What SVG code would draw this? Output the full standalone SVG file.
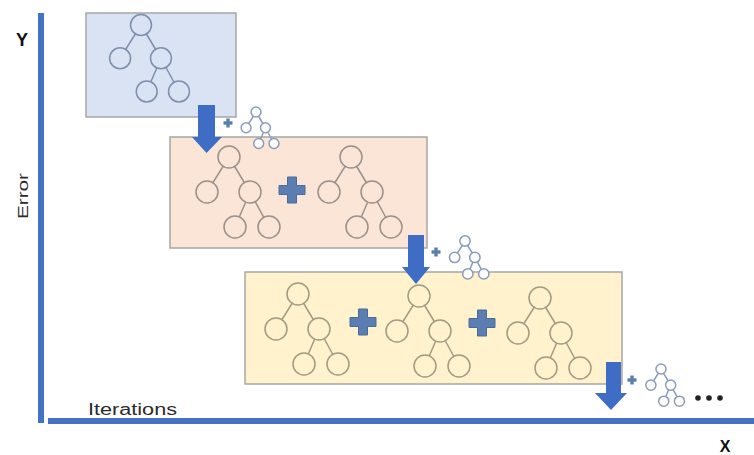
<svg xmlns="http://www.w3.org/2000/svg" xmlns:xlink="http://www.w3.org/1999/xlink" width="754" height="455" viewBox="0 0 754 455">
<style>
.box{stroke:#a6a6a6;stroke-width:1.5}
.arrow{fill:#3f6dc6}
.plus{fill:#5b7eb2;stroke:#4a6a9a;stroke-width:1}
.axis{fill:#4472c4}
.lbl{font-family:"Liberation Sans",Arial,sans-serif;fill:#2b2b2b}
.big{font-weight:bold;fill:#111}
</style>
<defs>
<g id="tree">
<line x1="0" y1="0" x2="-22" y2="35"/>
<line x1="0" y1="0" x2="21" y2="35"/>
<line x1="21" y1="35" x2="6" y2="70"/>
<line x1="21" y1="35" x2="40" y2="70"/>
<circle cx="0" cy="0" r="11"/>
<circle cx="-22" cy="35" r="11"/>
<circle cx="21" cy="35" r="11"/>
<circle cx="6" cy="70" r="11"/>
<circle cx="40" cy="70" r="11"/>
</g>
<path id="plus" d="M-4.5,-13 H4.5 V-4.5 H13 V4.5 H4.5 V13 H-4.5 V4.5 H-13 V-4.5 H-4.5 Z"/>
</defs>

<!-- axes -->
<g id="axes">
<rect class="axis" x="38" y="13" width="6" height="410"/>
<rect class="axis" x="48" y="418" width="706" height="6"/>
<text class="lbl big" x="22" y="46" font-size="18" text-anchor="middle">Y</text>
<text class="lbl" x="0" y="0" font-size="14" text-anchor="middle" transform="translate(28,196) rotate(-90)" textLength="46" lengthAdjust="spacingAndGlyphs">Error</text>
<text class="lbl" x="88" y="415" font-size="16" textLength="89" lengthAdjust="spacingAndGlyphs">Iterations</text>
<text class="lbl big" x="725" y="452" font-size="16" text-anchor="middle">X</text>
</g>

<!-- iteration 1 -->
<g id="iter1">
<rect class="box" x="86" y="13" width="150" height="104" fill="#dae3f3"/>
<use xlink:href="#tree" transform="translate(141,25) scale(0.95)" fill="#dae3f3" stroke="#7f8fae" stroke-width="1.6"/>
</g>

<!-- iteration 2 -->
<g id="iter2">
<rect class="box" x="170" y="137" width="257" height="111" fill="#fbe5d6"/>
<use xlink:href="#tree" transform="translate(229,157)" fill="#fbe5d6" stroke="#9a918c" stroke-width="1.5"/>
<use xlink:href="#plus" class="plus" transform="translate(292,190)"/>
<use xlink:href="#tree" transform="translate(351,157)" fill="#fbe5d6" stroke="#9a918c" stroke-width="1.5"/>
</g>

<!-- iteration 3 -->
<g id="iter3">
<rect class="box" x="245" y="272" width="377" height="112" fill="#fff2cc"/>
<use xlink:href="#tree" transform="translate(298,294)" fill="#fff2cc" stroke="#a29c85" stroke-width="1.5"/>
<use xlink:href="#plus" class="plus" transform="translate(363,322)"/>
<use xlink:href="#tree" transform="translate(419,296)" fill="#fff2cc" stroke="#a29c85" stroke-width="1.5"/>
<use xlink:href="#plus" class="plus" transform="translate(482,323)"/>
<use xlink:href="#tree" transform="translate(540,298)" fill="#fff2cc" stroke="#a29c85" stroke-width="1.5"/>
</g>

<!-- added small trees -->
<g id="add1">
<use xlink:href="#plus" class="plus" transform="translate(228,123) scale(0.33)"/>
<use xlink:href="#tree" transform="translate(256,112) scale(0.45)" fill="#ffffff" stroke="#8a9bbb" stroke-width="3.3"/>
</g>
<g id="add2">
<use xlink:href="#plus" class="plus" transform="translate(436,252) scale(0.33)"/>
<use xlink:href="#tree" transform="translate(465,241) scale(0.47)" fill="#ffffff" stroke="#8a9bbb" stroke-width="3.2"/>
</g>
<g id="add3">
<use xlink:href="#plus" class="plus" transform="translate(632,380) scale(0.33)"/>
<use xlink:href="#tree" transform="translate(661,369) scale(0.46)" fill="#ffffff" stroke="#8a9bbb" stroke-width="3.2"/>
<circle cx="698" cy="398" r="2.8" fill="#222"/>
<circle cx="709" cy="398" r="2.8" fill="#222"/>
<circle cx="720" cy="398" r="2.8" fill="#222"/>
</g>

<!-- connectors -->
<g id="connectors">
<polygon class="arrow" points="198,105 215,105 215,137 222,137 206.5,153 192,137 198,137"/>
<polygon class="arrow" points="408,235 424,235 424,267 430,267 416,284 402,267 408,267"/>
<polygon class="arrow" points="606,362 621,362 621,393 627,393 611,410 595,393 606,393"/>
</g>
</svg>
